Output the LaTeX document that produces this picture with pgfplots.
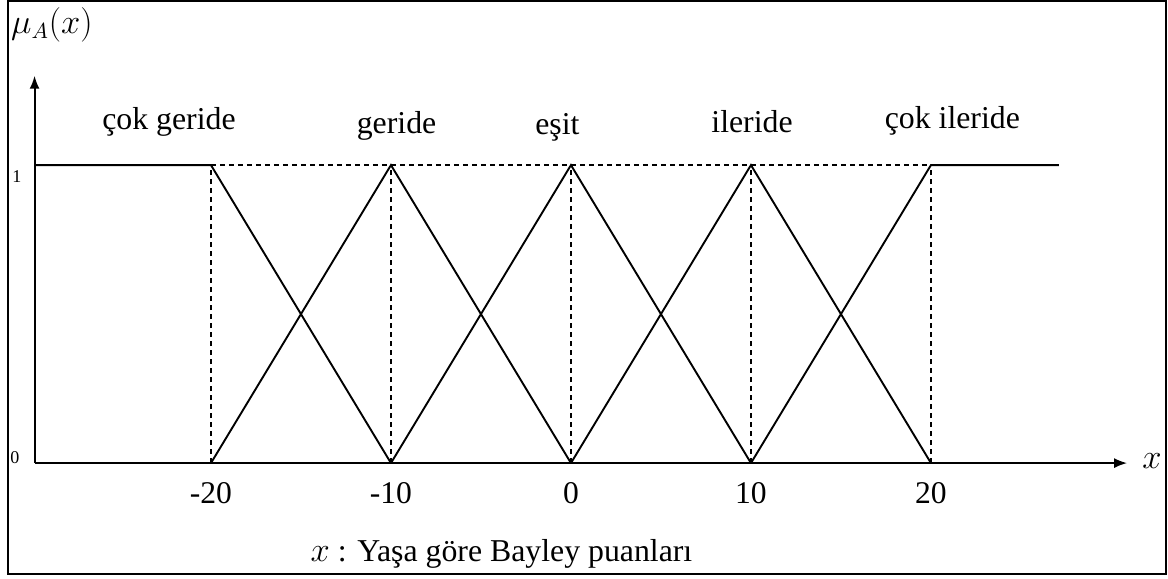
\documentclass[border=0pt]{standalone}
\usepackage{pgfplots}
\pgfplotsset{compat=1.18}
\usetikzlibrary{arrows.meta}
\usepackage{fontspec}
\setmainfont{Liberation Serif}
\tikzset{lbl/.style={font=\fontsize{15.9}{19}\selectfont, anchor=base, inner sep=0pt},
  mf/.style={black, line width=0.95pt},
  guide/.style={black, dash pattern=on 2.5pt off 2pt, line width=0.8pt}}
\begin{document}
\begin{tikzpicture}
\begin{axis}[
  x=9pt, y=149pt,
  xmin=-29.8, xmax=30.9, ymin=0, ymax=1.30,
  axis lines=left,
  axis line style={-{Latex[length=6.5pt,width=5pt]}, line width=0.95pt},
  clip=false,
  xtick={-20,-10,0,10,20},
  xticklabels={{-20},{-10},{0},{10},{20}},
  xticklabel style={font=\fontsize{15.8}{18}\selectfont, anchor=base, inner sep=0pt, yshift=-20pt},
  ytick=\empty,
  major tick length=0pt,
]
% membership functions
\addplot[mf] coordinates {(-29.8,1) (-20,1) (-10,0)};
\addplot[mf] coordinates {(-20,0) (-10,1) (0,0)};
\addplot[mf] coordinates {(-10,0) (0,1) (10,0)};
\addplot[mf] coordinates {(0,0) (10,1) (20,0)};
\addplot[mf] coordinates {(10,0) (20,1) (27.1,1)};
% dashed guides
\addplot[guide] coordinates {(-20,1) (20,1)};
\addplot[guide] coordinates {(-20,0) (-20,1)};
\addplot[guide] coordinates {(-10,0) (-10,1)};
\addplot[guide] coordinates {(0,0) (0,1)};
\addplot[guide] coordinates {(10,0) (10,1)};
\addplot[guide] coordinates {(20,0) (20,1)};
% labels
\node[lbl] at (axis cs:-22.33,1.121) {çok geride};
\node[lbl] at (axis cs:-9.69,1.107) {geride};
\node[lbl] at (axis cs:-0.75,1.101) {eşit};
\node[lbl] at (axis cs:10.06,1.111) {ileride};
\node[lbl] at (axis cs:21.19,1.124) {çok ileride};
\node[lbl] at (axis cs:-3.86,-0.331) {$x$ : Yaşa göre Bayley puanları};
\node[lbl] at (axis cs:32.28,-0.017) {$x$};
\node[lbl, anchor=base west] at (axis cs:-31.12,1.443) {$\mu_A(x)$};
\node[font=\fontsize{9}{10}\selectfont, anchor=base west, inner sep=0pt] at (axis cs:-31.06,0.943) {1};
\node[font=\fontsize{9}{10}\selectfont, anchor=base west, inner sep=0pt] at (axis cs:-31.17,0.0) {0};
% frame and page extent
\draw[line width=1pt] (axis cs:-31.28,-0.372) rectangle (axis cs:33.06,1.550);
\path (axis cs:-31.72,-0.386) rectangle (axis cs:33.17,1.554);
\end{axis}
\end{tikzpicture}
\end{document}
